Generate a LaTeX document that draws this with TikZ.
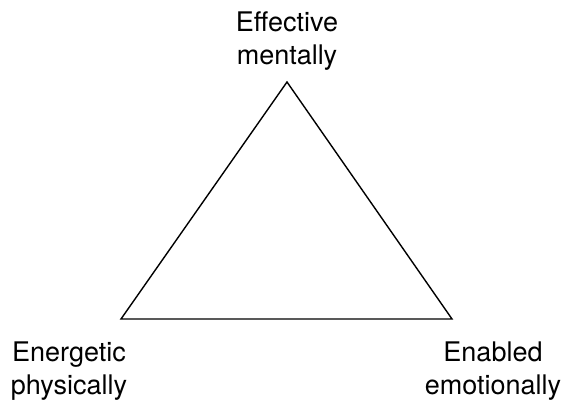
\documentclass[tikz,border=0pt]{standalone}
\usepackage{fontspec}
\setmainfont{TeX Gyre Heros}
\begin{document}
\begin{tikzpicture}[x=1pt,y=1pt,
  lbl/.style={align=center,inner sep=0pt,font=\fontsize{27}{33}\selectfont},
  tri/.style={draw=black,line width=1.4pt,line join=miter}]
\useasboundingbox (0,0) rectangle (565,401);
\coordinate (T) at (287,319);
\coordinate (L) at (121,82);
\coordinate (R) at (452,82);
\draw[tri] (T) -- (L) -- (R) -- cycle;
\node[lbl] (top) at (287,360) {Effective\\mentally};
\node[lbl] (left) at (69,30) {Energetic\\physically};
\node[lbl] (right) at (493,30) {Enabled\\emotionally};
\end{tikzpicture}
\end{document}
